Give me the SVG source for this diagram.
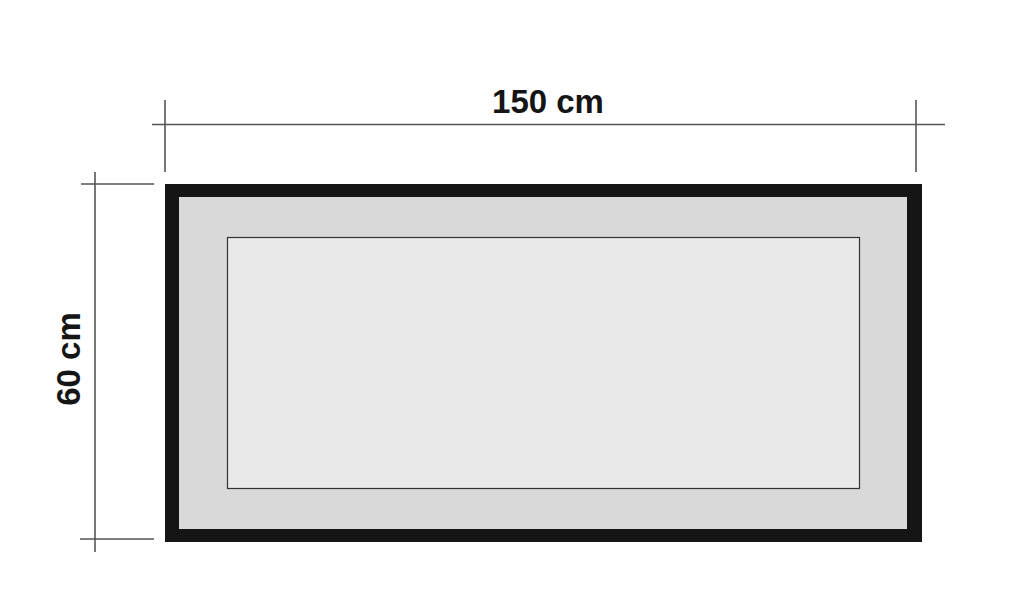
<svg xmlns="http://www.w3.org/2000/svg" width="1024" height="610" viewBox="0 0 1024 610">
<style>
.dim{stroke:#555;stroke-width:1.6;fill:none}
.lbl{font-family:"Liberation Sans",Arial,sans-serif;font-weight:bold;font-size:33px;fill:#151515}
</style>
<rect width="1024" height="610" fill="#fff"/>
<g id="dimensions">
<line class="dim" x1="152" y1="124.5" x2="945" y2="124.5"/>
<line class="dim" x1="165" y1="100" x2="165" y2="172"/>
<line class="dim" x1="916" y1="100" x2="916" y2="172"/>
<line class="dim" x1="95" y1="172" x2="95" y2="552"/>
<line class="dim" x1="81" y1="184" x2="154" y2="184"/>
<line class="dim" x1="80" y1="539" x2="154" y2="539"/>
</g>
<g id="frame">
<rect x="165" y="184" width="757" height="358" fill="#151515"/>
<rect x="179" y="197" width="728" height="332" fill="#d9d9d9"/>
<rect x="227.5" y="237.5" width="632" height="251" fill="#e9e9e9" stroke="#333" stroke-width="1.2"/>
</g>
<g id="labels">
<text class="lbl" x="548" y="113" text-anchor="middle">150 cm</text>
<text class="lbl" transform="translate(80,359) rotate(-90)" text-anchor="middle">60 cm</text>
</g>
</svg>
